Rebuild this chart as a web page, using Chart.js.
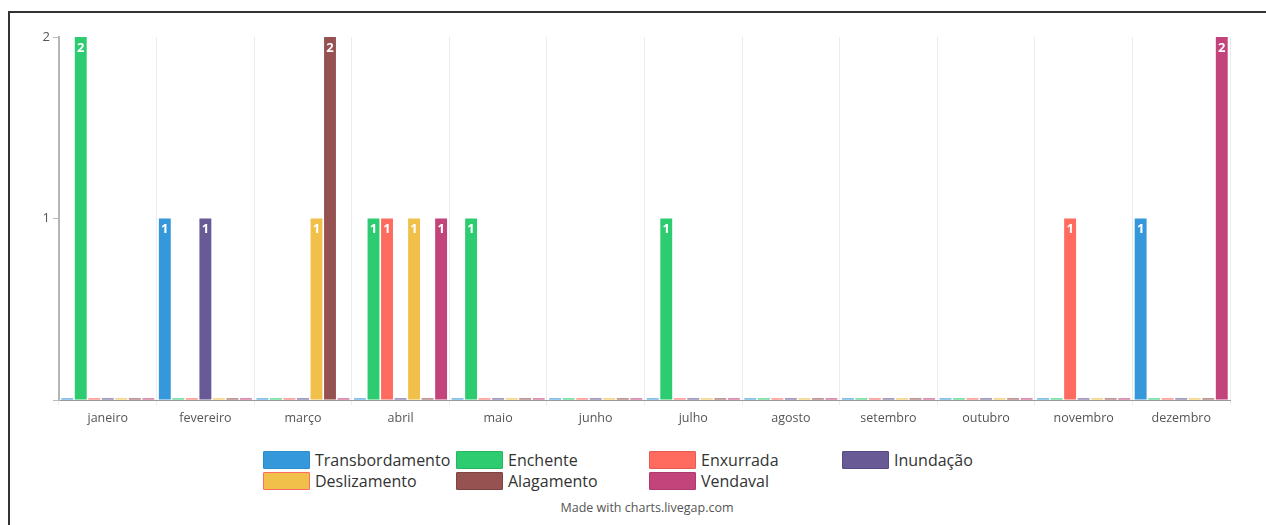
<!DOCTYPE html>
<html>
<head>
<meta charset="utf-8">
<script src="https://cdn.jsdelivr.net/npm/chart.js@4.4.1/dist/chart.umd.min.js"></script>
<style>
    html, body { margin: 0; padding: 0; background: #fff; overflow: hidden; }
    body { width: 1266px; height: 525px; position: relative; font-family: 'Open Sans', sans-serif; }
    .frame { position: absolute; left: 8px; top: 11px; width: 1320px; height: 600px; border: 2px solid #333; box-sizing: border-box; }
    .chart-box { position: absolute; left: 0; top: 0; width: 1266px; height: 440px; }
    #legend { position: absolute; left: 263px; top: 451px; display: grid; grid-template-columns: repeat(4, 193px); row-gap: 3px; }
    .item { display: flex; align-items: center; height: 18px; font-size: 16px; color: #333; white-space: nowrap; }
    .swatch { width: 45px; height: 16px; border: 1px solid; margin-right: 5px; border-radius: 1px; }
    .credit { position: absolute; left: 0; width: 1294px; top: 499px; text-align: center; font-size: 12.5px; color: #555; }
</style>
</head>
<body>
<div class="frame"></div>
<div class="chart-box"><canvas id="myChart"></canvas></div>
<div id="legend"></div>
<div class="credit">Made with charts.livegap.com</div>
<script>
// Dados (eventos por mês)
const months = ['janeiro', 'fevereiro', 'março', 'abril', 'maio', 'junho', 'julho', 'agosto', 'setembro', 'outubro', 'novembro', 'dezembro'];
const transbordamento = [0, 1, 0, 0, 0, 0, 0, 0, 0, 0, 0, 1];
const enchente        = [2, 0, 0, 1, 1, 0, 1, 0, 0, 0, 0, 0];
const enxurrada       = [0, 0, 0, 1, 0, 0, 0, 0, 0, 0, 1, 0];
const inundacao       = [0, 1, 0, 0, 0, 0, 0, 0, 0, 0, 0, 0];
const deslizamento    = [0, 0, 1, 1, 0, 0, 0, 0, 0, 0, 0, 0];
const alagamento      = [0, 0, 2, 0, 0, 0, 0, 0, 0, 0, 0, 0];
const vendaval        = [0, 0, 0, 1, 0, 0, 0, 0, 0, 0, 0, 2];
const yTicks = [1, 2];

const series = [
    { label: 'Transbordamento', data: transbordamento, color: '#3498db', border: '#2f8ccc' },
    { label: 'Enchente',        data: enchente,        color: '#2ecc71', border: '#27b562' },
    { label: 'Enxurrada',       data: enxurrada,       color: '#ff6b5e', border: '#e85a4f' },
    { label: 'Inundação',       data: inundacao,       color: '#675a95', border: '#574b84' },
    { label: 'Deslizamento',    data: deslizamento,    color: '#f0c04b', border: '#ff6b5e' },
    { label: 'Alagamento',      data: alagamento,      color: '#955251', border: '#7f4343' },
    { label: 'Vendaval',        data: vendaval,        color: '#c3447a', border: '#ad3a6a' }
];

// Rótulos brancos no topo das barras
const valueLabels = {
    id: 'valueLabels',
    afterDatasetsDraw(chart) {
        const ctx = chart.ctx;
        ctx.save();
        ctx.fillStyle = '#fff';
        ctx.font = 'bold 13px "Open Sans"';
        ctx.textAlign = 'center';
        ctx.textBaseline = 'middle';
        chart.data.datasets.forEach((ds, i) => {
            chart.getDatasetMeta(i).data.forEach((bar, j) => {
                if (ds.data[j] > 0) ctx.fillText(ds.data[j], bar.x, bar.y + 11);
            });
        });
        ctx.restore();
    }
};

new Chart(document.getElementById('myChart'), {
    type: 'bar',
    data: {
        labels: months,
        datasets: series.map(s => ({
            label: s.label,
            data: s.data,
            backgroundColor: s.color,
            borderWidth: 0,
            minBarLength: 1.6,
            categoryPercentage: 0.97,
            barPercentage: 0.88
        }))
    },
    options: {
        responsive: true,
        maintainAspectRatio: false,
        animation: false,
        layout: { padding: { left: 9, top: 37, right: 36, bottom: 0 } },
        plugins: {
            legend: { display: false },
            tooltip: { enabled: false }
        },
        scales: {
            x: {
                grid: { color: '#ececec', tickLength: 5, offset: true },
                border: { color: '#999', width: 1 },
                ticks: { color: '#555', font: { family: 'Open Sans', size: 12.5 }, padding: 6, maxRotation: 0 },
                afterFit: s => { s.height = 40; }
            },
            y: {
                min: 0,
                max: 2,
                grid: { drawOnChartArea: false, tickLength: 6, color: '#bbb' },
                border: { color: '#b5b5b5', width: 2 },
                afterBuildTicks: s => { s.ticks = [0].concat(yTicks).map(v => ({ value: v })); },
                ticks: {
                    color: '#555',
                    font: { family: 'Open Sans', size: 13 },
                    padding: 3,
                    callback: v => v === 0 ? '' : v
                },
                afterFit: s => { s.width = 50; }
            }
        }
    },
    plugins: [valueLabels]
});

// Legenda em grade (4 colunas)
const legend = document.getElementById('legend');
series.forEach(s => {
    const item = document.createElement('div');
    item.className = 'item';
    item.innerHTML = `<span class="swatch" style="background:${s.color};border-color:${s.border}"></span>${s.label}`;
    legend.appendChild(item);
});
</script>
</body>
</html>
